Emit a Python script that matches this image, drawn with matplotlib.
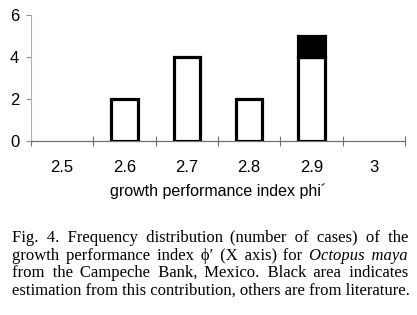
import numpy as np
import matplotlib
matplotlib.use('Agg')
import matplotlib.pyplot as plt

# values
categories = ['2.5', '2.6', '2.7', '2.8', '2.9', '3']
literature = [0, 2, 4, 2, 4, 0]      # white part of bars
this_study = [0, 0, 0, 0, 1, 0]      # black part of bars
yticks = [0, 2, 4, 6]
xlabel = 'growth performance index phi\u00b4'

caption = [
    [('Fig. 4. Frequency distribution (number of cases) of the', 'normal')],
    [('growth performance index \u03d5\u2032 (X axis) for', 'normal'), ('Octopus maya', 'italic')],
    [('from the Campeche Bank, Mexico. Black area indicates', 'normal')],
    [('estimation from this contribution, others are from literature.', 'normal')],
]

W, H = 417, 315
fig = plt.figure(figsize=(W / 100, H / 100), dpi=100)
ax = fig.add_axes([31 / W, 1 - 141 / H, (405 - 31) / W, 126 / H])

x = np.arange(len(categories))
lit = np.array(literature)
own = np.array(this_study)
m = lit > 0
ax.bar(x[m], lit[m], width=0.42, color='white', edgecolor='black', linewidth=2.3, zorder=3)
m2 = own > 0
ax.bar(x[m2], own[m2], bottom=lit[m2], width=0.42, color='black', edgecolor='black',
       linewidth=2.3, zorder=3)

ax.set_xlim(-0.5, len(categories) - 0.5)
ax.set_ylim(0, 6)
for s in ['top', 'right']:
    ax.spines[s].set_visible(False)
ax.spines['left'].set_color('#b0b0b0')
ax.spines['left'].set_linewidth(0.8)
ax.spines['bottom'].set_color('#707070')
ax.spines['bottom'].set_linewidth(0.9)

ax.set_xticks(x)
ax.set_xticklabels(categories, fontsize=12, family='Liberation Sans')
ax.tick_params(axis='x', which='major', length=0, pad=14)
ax.set_xticks(np.arange(-0.5, len(categories)), minor=True)
ax.tick_params(axis='x', which='minor', direction='inout', length=7, width=0.8, color='#707070')

ax.set_yticks(yticks)
ax.set_yticklabels([str(v) for v in yticks], fontsize=12, family='Liberation Sans')
ax.tick_params(axis='y', direction='out', length=3.5, width=0.8, color='#909090', pad=5)

ax.set_xlabel(xlabel, fontsize=11.5, family='Liberation Sans', va='top')
ax.xaxis.set_label_coords(0.5, -0.34)

# justified caption: widen the spaces with hair spaces
renderer = fig.canvas.get_renderer()
fam = ['Liberation Serif', 'DejaVu Serif']
HAIR = '\u200a'
x0, x1 = 12, 408
baselines = [242, 259.5, 277, 294.5]


def wid(t):
    return t.get_window_extent(renderer).width


probe = fig.text(0, 0, 'aa', fontsize=12, family=fam)
w_aa = wid(probe)
probe.set_text('a a')
space_w = wid(probe) - w_aa
probe.set_text('a' + HAIR * 10 + 'a')
hair_w = (wid(probe) - w_aa) / 10
probe.remove()

for segs, yb in zip(caption, baselines):
    texts = [fig.text(0, 1 - yb / H, s, fontsize=12, family=fam, style=st,
                      va='baseline', ha='left') for s, st in segs]
    widths = [wid(t) for t in texts]
    n_in = sum(s.count(' ') for s, _ in segs)
    n_gaps = n_in + len(segs) - 1
    extra = (x1 - x0) - sum(widths) - (len(segs) - 1) * space_w
    per_gap = extra / n_gaps
    k = 0
    for t, (s, st) in zip(texts, segs):
        words = s.split(' ')
        out = words[0]
        for w in words[1:]:
            n = round((k + 1) * per_gap / hair_w) - round(k * per_gap / hair_w)
            out += ' ' + HAIR * max(n, 0) + w
            k += 1
        t.set_text(out)
        k += 1
    # place the segments
    texts[0].set_x(x0 / W)
    if len(texts) > 1:
        texts[-1].set_ha('right')
        texts[-1].set_x(x1 / W)

fig.savefig('out.png', dpi=100)
